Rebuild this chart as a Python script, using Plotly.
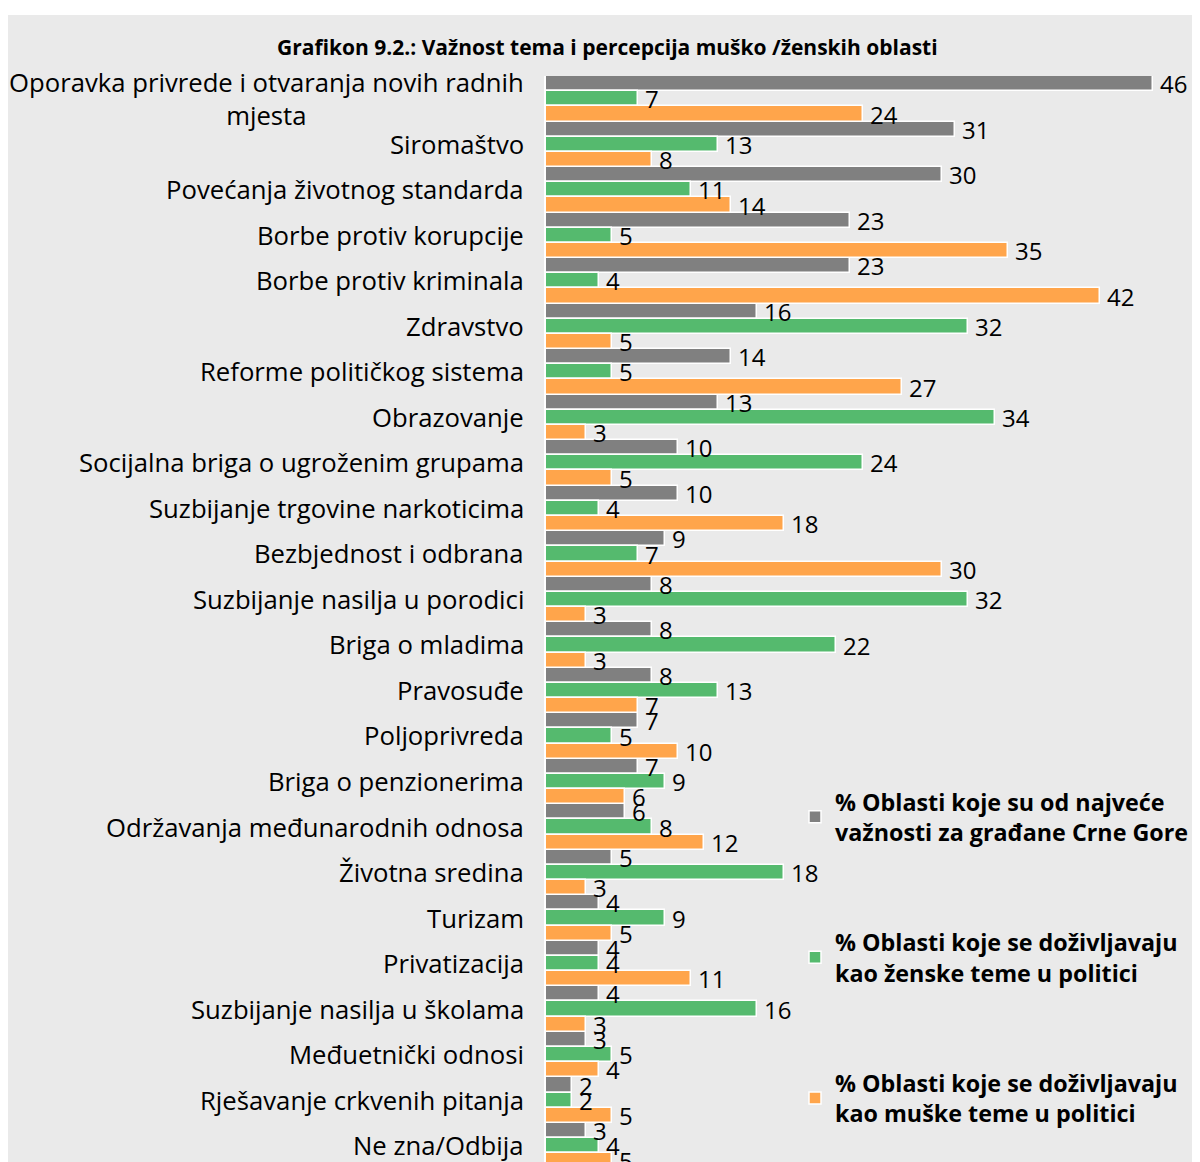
import plotly.graph_objects as go

categories = [
    "Oporavka privrede i otvaranja novih radnih<br>mjesta",
    "Siromaštvo",
    "Povećanja životnog standarda",
    "Borbe protiv korupcije",
    "Borbe protiv kriminala",
    "Zdravstvo",
    "Reforme političkog sistema",
    "Obrazovanje",
    "Socijalna briga o ugroženim grupama",
    "Suzbijanje trgovine narkoticima",
    "Bezbjednost i odbrana",
    "Suzbijanje nasilja u porodici",
    "Briga o mladima",
    "Pravosuđe",
    "Poljoprivreda",
    "Briga o penzionerima",
    "Održavanja međunarodnih odnosa",
    "Životna sredina",
    "Turizam",
    "Privatizacija",
    "Suzbijanje nasilja u školama",
    "Međuetnički odnosi",
    "Rješavanje crkvenih pitanja",
    "Ne zna/Odbija",
]

importance = [46, 31, 30, 23, 23, 16, 14, 13, 10, 10, 9, 8, 8, 8, 7, 7, 6, 5, 4, 4, 4, 3, 2, 3]
female = [7, 13, 11, 5, 4, 32, 5, 34, 24, 4, 7, 32, 22, 13, 5, 9, 8, 18, 9, 4, 16, 5, 2, 4]
male = [24, 8, 14, 35, 42, 5, 27, 3, 5, 18, 30, 3, 3, 7, 10, 6, 12, 3, 5, 11, 3, 4, 5, 5]

series_names = [
    "% Oblasti koje su od najveće<br>važnosti za građane Crne Gore",
    "% Oblasti koje se doživljavaju<br>kao ženske teme u politici",
    "% Oblasti koje se doživljavaju<br>kao muške teme u politici",
]
series_values = [importance, female, male]
series_colors = ["#808080", "#55BA6E", "#FFA54B"]

title_text = "Grafikon 9.2.: Važnost tema i percepcija muško /ženskih oblasti"

FONT = "Open Sans"
BG = "#EAEAEA"

# page has an 8px body margin; work in figure coordinates = page - 8
OFF = 8
W, H = 1200 - OFF, 1162 - OFF
L, T = 546 - OFF, 76 - OFF
pw, ph = W - L, H - T
PX_PER_UNIT = 13.2

fig = go.Figure()
# bars (no text)
for i, (name, vals, col) in enumerate(zip(series_names, series_values, series_colors)):
    fig.add_trace(go.Bar(
        y=categories, x=vals, orientation="h", name=name,
        marker=dict(color=col, line=dict(color="white", width=1.5)),
        legendgroup=f"g{i}", hoverinfo="skip",
    ))
# value labels on an overlaid axis so they sit on top of all bars
for i, (name, vals) in enumerate(zip(series_names, series_values)):
    fig.add_trace(go.Bar(
        y=categories, x=vals, orientation="h", name=name, yaxis="y2",
        marker=dict(color="rgba(0,0,0,0)", line=dict(width=0)),
        text=["\u2009" + str(v) for v in vals], textposition="outside",
        textfont=dict(family=FONT, size=24, color="black"),
        constraintext="none", cliponaxis=False, showlegend=False,
        hoverinfo="skip",
    ))

# background panel
fig.add_shape(type="rect", xref="paper", yref="paper",
              x0=-L / pw, x1=1.0, y0=0, y1=1 + (T - 7) / ph,
              fillcolor=BG, line=dict(width=0), layer="below")

for c in categories:
    fig.add_annotation(text=c, xref="paper", yref="y", x=-20 / pw, y=c,
                       xanchor="right", yanchor="middle", align="center",
                       showarrow=False,
                       font=dict(family=FONT, size=25.7, color="black"))

fig.add_annotation(text="<b>" + title_text + "</b>", xref="paper", yref="paper",
                   x=(599 - L) / pw, y=1 + (T - 39) / ph, xanchor="center", yanchor="middle",
                   showarrow=False, font=dict(family=FONT, size=21, color="black"))

yrange = [23.36, -0.5]
fig.update_layout(
    width=W, height=H,
    margin=dict(l=L, r=0, t=T, b=0, pad=0, autoexpand=False),
    paper_bgcolor="white", plot_bgcolor=BG,
    barmode="group", bargap=0.0, bargroupgap=0.0,
    showlegend=True,
    legend=dict(x=(787 - L) / pw, y=1 - (772 - T) / ph, xanchor="left", yanchor="top",
                bgcolor="rgba(0,0,0,0)", traceorder="grouped", tracegroupgap=77,
                font=dict(family=FONT, size=23.3, color="black", weight="bold"),
                itemclick=False),
    xaxis=dict(range=[0, pw / PX_PER_UNIT], showgrid=False, zeroline=False,
               showticklabels=False, ticks="", showline=False),
    yaxis=dict(range=yrange, showgrid=False, zeroline=False,
               showticklabels=False, ticks="", showline=True, linecolor="white", linewidth=2),
    yaxis2=dict(range=yrange, overlaying="y", showgrid=False, zeroline=False,
                showticklabels=False, ticks="", showline=False, matches="y"),
)

fig.write_html("out.html")
